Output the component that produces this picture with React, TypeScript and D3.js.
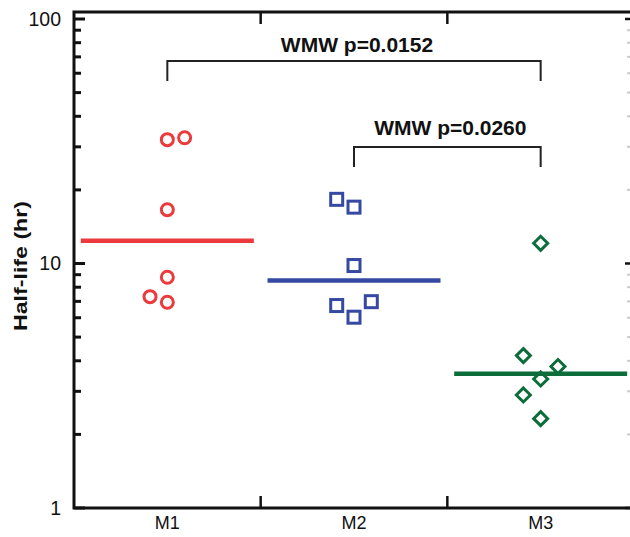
import React from "react";
import * as d3 from "d3";

const categories = ["M1", "M2", "M3"];
const m1Values = [32.1, 32.7, 16.6, 8.79, 7.32, 6.94];
const m1Jitter = [0, 1, 0, 0, -1, 0];
const m2Values = [18.3, 17.0, 9.81, 6.73, 6.98, 6.03];
const m2Jitter = [-1, 0, 0, -1, 1, 0];
const m3Values = [12.1, 4.2, 3.79, 3.37, 2.9, 2.32];
const m3Jitter = [0, -1, 1, 0, -1, 0];
const medians = [12.4, 8.52, 3.54];
const yMajorTicks = [1, 10, 100];
const comparisonFrom = ["M1", "M2"];
const comparisonTo = ["M3", "M3"];
const comparisonLabels = ["WMW p=0.0152", "WMW p=0.0260"];

const colors = ["#ec3a3c", "#3548a2", "#0c6d3a"];
const W = 630;
const H = 537;
const left = 74;
const right = 634;
const top = 12;
const bottom = 508;
const font = "'Liberation Sans', Arial, sans-serif";

export default function App() {
  const x = d3.scaleBand<string>().domain(categories).range([left, right]);
  const y = d3.scaleLog().domain([1, 100]).range([bottom, 19]);
  const bw = x.bandwidth();
  const cx = (c: string) => (x(c) as number) + bw / 2;
  const jit = 17.3;

  const minorTicks: number[] = [];
  [1, 10].forEach((d) => {
    for (let k = 2; k <= 9; k++) minorTicks.push(d * k);
  });

  const groups = [
    { values: m1Values, jitter: m1Jitter },
    { values: m2Values, jitter: m2Jitter },
    { values: m3Values, jitter: m3Jitter },
  ];

  const marker = (gi: number, px: number, py: number, key: string) => {
    const col = colors[gi];
    if (gi === 0)
      return <circle key={key} cx={px} cy={py} r={6} fill="none" stroke={col} strokeWidth={3} />;
    if (gi === 1)
      return (
        <rect key={key} x={px - 6} y={py - 6} width={12} height={12} fill="none" stroke={col} strokeWidth={3} />
      );
    const s = 7;
    return (
      <path
        key={key}
        d={`M${px},${py - s}L${px + s},${py}L${px},${py + s}L${px - s},${py}Z`}
        fill="none"
        stroke={col}
        strokeWidth={3}
      />
    );
  };

  const bracketY = [61, 147];
  const bracketDrop = 20;
  const labelBase = [52, 135];

  return (
    <svg
      width={W}
      height={H}
      style={{ position: "absolute", left: 0, top: 0, background: "#fff" }}
      fontFamily={font}
    >
      <rect x={0} y={0} width={W} height={H} fill="#fff" />
      <path
        d={`M${right},${top}L${left},${top}L${left},${bottom}L${right},${bottom}`}
        fill="none"
        stroke="#111"
        strokeWidth={3}
      />
      <line x1={right} x2={right} y1={top} y2={bottom} stroke="#111" strokeWidth={3} />
      {categories.slice(1).map((c) => (
        <g key={c}>
          <line x1={x(c)} x2={x(c)} y1={top} y2={top + 12} stroke="#111" strokeWidth={2.5} />
          <line x1={x(c)} x2={x(c)} y1={bottom} y2={bottom - 12} stroke="#111" strokeWidth={2.5} />
        </g>
      ))}
      {yMajorTicks.map((t) => (
        <g key={"M" + t}>
          <line x1={left} x2={left + 11} y1={y(t)} y2={y(t)} stroke="#111" strokeWidth={3} />
          <line x1={right} x2={right - 9} y1={y(t)} y2={y(t)} stroke="#111" strokeWidth={2.5} />
          <text x={61} y={y(t)} dy="0.35em" textAnchor="end" fontSize={19.5} fill="#111">
            {t}
          </text>
        </g>
      ))}
      {minorTicks.map((t) => (
        <g key={"m" + t}>
          <line x1={left} x2={left + 7} y1={y(t)} y2={y(t)} stroke="#111" strokeWidth={3} />
          <line x1={right - 2} x2={right - 7} y1={y(t)} y2={y(t)} stroke="#ccc" strokeWidth={2} />
        </g>
      ))}
      <text
        transform={`translate(27,266) rotate(-90)`}
        textAnchor="middle"
        fontSize={19}
        fontWeight="bold"
        fill="#111"
        textLength={130}
        lengthAdjust="spacingAndGlyphs"
      >
        Half-life (hr)
      </text>
      {categories.map((c) => (
        <text key={c} x={cx(c)} y={529} textAnchor="middle" fontSize={18} fill="#111">
          {c}
        </text>
      ))}
      {categories.map((c, i) => (
        <line
          key={"med" + c}
          x1={cx(c) - 86.5}
          x2={cx(c) + 86.5}
          y1={y(medians[i])}
          y2={y(medians[i])}
          stroke={colors[i]}
          strokeWidth={4.5}
        />
      ))}
      {groups.map((g, gi) =>
        g.values.map((v, j) => marker(gi, cx(categories[gi]) + g.jitter[j] * jit, y(v), `p${gi}-${j}`))
      )}
      {comparisonLabels.map((lab, i) => {
        const x1 = cx(comparisonFrom[i]);
        const x2 = cx(comparisonTo[i]);
        const by = bracketY[i];
        return (
          <g key={lab}>
            <path
              d={`M${x1},${by + bracketDrop}L${x1},${by}L${x2},${by}L${x2},${by + bracketDrop}`}
              fill="none"
              stroke="#222"
              strokeWidth={2}
            />
            <text
              x={(x1 + x2) / 2 + 3}
              y={labelBase[i]}
              textAnchor="middle"
              fontSize={21}
              fontWeight="bold"
              fill="#111"
            >
              {lab}
            </text>
          </g>
        );
      })}
    </svg>
  );
}
